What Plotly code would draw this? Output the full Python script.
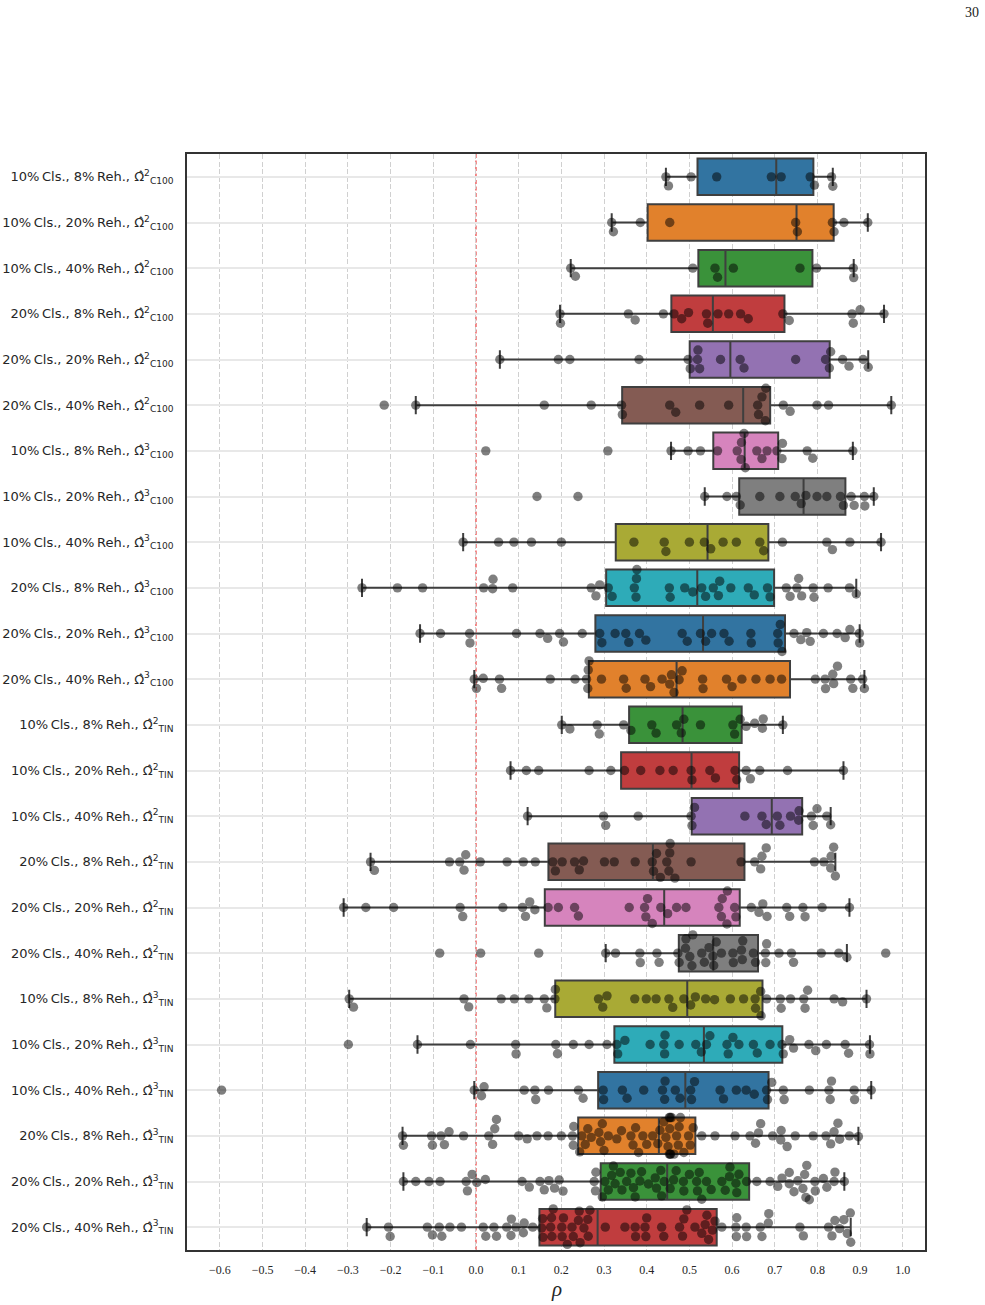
import numpy as np
import plotly.graph_objects as go

# ---------------- data (Spearman rho per configuration) ----------------
cls_pct = [10, 10, 10, 20, 20, 20, 10, 10, 10, 20, 20, 20,
           10, 10, 10, 20, 20, 20, 10, 10, 10, 20, 20, 20]
reh_pct = [8, 20, 40, 8, 20, 40, 8, 20, 40, 8, 20, 40,
           8, 20, 40, 8, 20, 40, 8, 20, 40, 8, 20, 40]
omega_pow = [2] * 6 + [3] * 6 + [2] * 6 + [3] * 6
omega_set = ["C100"] * 12 + ["TIN"] * 12

r00 = [0.445, 0.451, 0.504, 0.564, 0.692, 0.715, 0.783, 0.793, 0.833, 0.836]
r01 = [0.318, 0.322, 0.385, 0.454, 0.749, 0.753, 0.835, 0.839, 0.862, 0.918]
r02 = [0.222, 0.233, 0.508, 0.560, 0.566, 0.603, 0.759, 0.798, 0.884, 0.885]
r03 = [0.197, 0.198, 0.357, 0.373, 0.439, 0.464, 0.482, 0.498, 0.540, 0.543,
       0.567, 0.592, 0.620, 0.638, 0.719, 0.734, 0.881, 0.884, 0.900, 0.956]
r04 = [0.056, 0.193, 0.220, 0.382, 0.497, 0.502, 0.519, 0.520, 0.524, 0.573,
       0.619, 0.628, 0.749, 0.819, 0.828, 0.831, 0.859, 0.874, 0.907, 0.919]
r05 = [-0.215, -0.141, 0.160, 0.270, 0.341, 0.343, 0.454, 0.468, 0.524, 0.592,
       0.660, 0.662, 0.670, 0.678, 0.679, 0.720, 0.736, 0.799, 0.826, 0.973]
r06 = [0.023, 0.309, 0.457, 0.497, 0.526, 0.566, 0.612, 0.621, 0.622, 0.628,
       0.631, 0.658, 0.670, 0.682, 0.705, 0.717, 0.718, 0.776, 0.789, 0.883]
r07 = [0.143, 0.239, 0.536, 0.588, 0.610, 0.619, 0.665, 0.712, 0.748, 0.762,
       0.773, 0.799, 0.822, 0.854, 0.861, 0.879, 0.886, 0.910, 0.911, 0.932]
r08 = [-0.030, 0.053, 0.089, 0.130, 0.200, 0.370, 0.441, 0.445, 0.500, 0.535,
       0.550, 0.579, 0.610, 0.665, 0.674, 0.718, 0.822, 0.835, 0.876, 0.949]
r09 = [-0.267, -0.184, -0.125, 0.018, 0.039, 0.040, 0.086, 0.270, 0.281, 0.290,
       0.310, 0.319, 0.371, 0.375, 0.376, 0.377, 0.453, 0.455, 0.489, 0.508,
       0.529, 0.538, 0.556, 0.568, 0.571, 0.597, 0.638, 0.652, 0.683, 0.689,
       0.727, 0.736, 0.752, 0.756, 0.763, 0.790, 0.792, 0.825, 0.875, 0.891]
r10 = [-0.131, -0.083, -0.015, -0.014, 0.095, 0.150, 0.168, 0.196, 0.205, 0.249,
       0.290, 0.295, 0.326, 0.351, 0.358, 0.383, 0.398, 0.483, 0.495, 0.526,
       0.538, 0.552, 0.581, 0.593, 0.644, 0.645, 0.707, 0.708, 0.713, 0.717,
       0.745, 0.761, 0.775, 0.783, 0.814, 0.846, 0.865, 0.876, 0.898, 0.899]
r11 = [-0.004, 0.001, 0.017, 0.055, 0.060, 0.174, 0.232, 0.259, 0.262, 0.263,
       0.265, 0.294, 0.346, 0.352, 0.396, 0.409, 0.436, 0.454, 0.458, 0.464,
       0.476, 0.483, 0.531, 0.532, 0.587, 0.600, 0.623, 0.656, 0.689, 0.716,
       0.795, 0.818, 0.819, 0.836, 0.838, 0.847, 0.878, 0.883, 0.906, 0.910]
r12 = [0.201, 0.220, 0.284, 0.289, 0.346, 0.363, 0.412, 0.422, 0.470, 0.481,
       0.487, 0.526, 0.602, 0.606, 0.619, 0.633, 0.653, 0.671, 0.673, 0.719]
r13 = [0.081, 0.118, 0.147, 0.265, 0.316, 0.348, 0.386, 0.431, 0.462, 0.504,
       0.506, 0.548, 0.561, 0.607, 0.611, 0.633, 0.643, 0.665, 0.730, 0.861]
r14 = [0.121, 0.299, 0.304, 0.380, 0.504, 0.506, 0.512, 0.630, 0.670, 0.680,
       0.706, 0.712, 0.737, 0.756, 0.757, 0.786, 0.790, 0.799, 0.822, 0.831]
r15 = [-0.247, -0.238, -0.062, -0.038, -0.028, -0.024, 0.010, 0.073, 0.111, 0.139,
       0.180, 0.186, 0.202, 0.231, 0.242, 0.252, 0.301, 0.324, 0.373, 0.413,
       0.416, 0.423, 0.432, 0.447, 0.452, 0.454, 0.455, 0.466, 0.504, 0.621,
       0.653, 0.667, 0.670, 0.680, 0.793, 0.815, 0.831, 0.832, 0.838, 0.842]
r16 = [-0.310, -0.258, -0.193, -0.037, -0.031, 0.063, 0.109, 0.116, 0.126, 0.138,
       0.169, 0.193, 0.231, 0.240, 0.359, 0.395, 0.398, 0.402, 0.413, 0.433,
       0.449, 0.470, 0.492, 0.569, 0.575, 0.577, 0.588, 0.589, 0.606, 0.609,
       0.645, 0.663, 0.672, 0.682, 0.728, 0.735, 0.766, 0.771, 0.811, 0.875]
r17 = [-0.085, 0.011, 0.147, 0.304, 0.327, 0.384, 0.385, 0.424, 0.429, 0.473,
       0.476, 0.491, 0.492, 0.501, 0.506, 0.508, 0.529, 0.535, 0.546, 0.555,
       0.557, 0.563, 0.575, 0.602, 0.603, 0.622, 0.624, 0.625, 0.650, 0.655,
       0.678, 0.679, 0.681, 0.710, 0.739, 0.744, 0.809, 0.850, 0.869, 0.960]
r18 = [-0.297, -0.287, -0.028, -0.017, 0.059, 0.090, 0.124, 0.160, 0.166, 0.185,
       0.186, 0.287, 0.297, 0.307, 0.372, 0.399, 0.422, 0.452, 0.461, 0.487,
       0.503, 0.514, 0.538, 0.559, 0.596, 0.627, 0.654, 0.655, 0.667, 0.668,
       0.681, 0.713, 0.715, 0.737, 0.768, 0.771, 0.777, 0.839, 0.859, 0.915]
r19 = [-0.299, -0.137, -0.013, 0.093, 0.094, 0.187, 0.191, 0.228, 0.265, 0.307,
       0.330, 0.332, 0.349, 0.408, 0.440, 0.442, 0.443, 0.476, 0.515, 0.528,
       0.540, 0.548, 0.588, 0.591, 0.602, 0.616, 0.650, 0.659, 0.689, 0.717,
       0.720, 0.735, 0.744, 0.780, 0.796, 0.821, 0.865, 0.873, 0.922, 0.923]
r20 = [-0.596, -0.004, 0.013, 0.019, 0.113, 0.138, 0.140, 0.170, 0.240, 0.251,
       0.298, 0.299, 0.343, 0.354, 0.393, 0.437, 0.442, 0.443, 0.467, 0.478,
       0.505, 0.503, 0.512, 0.572, 0.580, 0.610, 0.633, 0.652, 0.681, 0.683,
       0.693, 0.720, 0.722, 0.781, 0.827, 0.830, 0.833, 0.886, 0.887, 0.926]
r21 = [-0.172, -0.170, -0.104, -0.102, -0.082, -0.074, -0.063, -0.029, 0.030, 0.039,
       0.044, 0.048, 0.100, 0.120, 0.143, 0.169, 0.200, 0.226, 0.228, 0.229,
       0.243, 0.248, 0.256, 0.262, 0.270, 0.288, 0.292, 0.296, 0.300, 0.310,
       0.330, 0.341, 0.363, 0.368, 0.374, 0.381, 0.391, 0.400, 0.414, 0.426,
       0.431, 0.440, 0.445, 0.450, 0.453, 0.453, 0.454, 0.455, 0.455, 0.456,
       0.458, 0.464, 0.470, 0.474, 0.476, 0.479, 0.487, 0.498, 0.502, 0.509,
       0.529, 0.560, 0.607, 0.642, 0.655, 0.662, 0.667, 0.695, 0.714, 0.715,
       0.729, 0.748, 0.790, 0.820, 0.831, 0.839, 0.848, 0.852, 0.875, 0.896]
r22 = [-0.170, -0.141, -0.110, -0.084, -0.023, -0.020, -0.009, 0.002, 0.022, 0.108,
       0.125, 0.150, 0.160, 0.171, 0.184, 0.195, 0.204, 0.277, 0.280, 0.281,
       0.296, 0.302, 0.310, 0.318, 0.322, 0.326, 0.338, 0.342, 0.353, 0.363,
       0.369, 0.373, 0.384, 0.388, 0.404, 0.420, 0.423, 0.433, 0.435, 0.441,
       0.455, 0.463, 0.469, 0.486, 0.487, 0.500, 0.517, 0.519, 0.523, 0.529,
       0.540, 0.551, 0.576, 0.584, 0.594, 0.595, 0.609, 0.611, 0.616, 0.634,
       0.658, 0.689, 0.707, 0.717, 0.734, 0.734, 0.745, 0.754, 0.766, 0.770,
       0.773, 0.775, 0.781, 0.794, 0.795, 0.814, 0.822, 0.839, 0.841, 0.863]
r23 = [-0.256, -0.205, -0.201, -0.114, -0.102, -0.086, -0.080, -0.061, -0.034, 0.017,
       0.023, 0.042, 0.048, 0.072, 0.082, 0.083, 0.094, 0.111, 0.113, 0.133,
       0.154, 0.156, 0.157, 0.175, 0.177, 0.178, 0.181, 0.201, 0.202, 0.205,
       0.214, 0.225, 0.228, 0.240, 0.242, 0.244, 0.253, 0.262, 0.263, 0.267,
       0.303, 0.349, 0.373, 0.374, 0.396, 0.398, 0.400, 0.435, 0.440, 0.477,
       0.484, 0.487, 0.494, 0.513, 0.529, 0.537, 0.541, 0.545, 0.554, 0.560,
       0.576, 0.609, 0.610, 0.611, 0.633, 0.634, 0.666, 0.670, 0.685, 0.686,
       0.759, 0.767, 0.826, 0.834, 0.841, 0.852, 0.862, 0.870, 0.877, 0.878]

series = [r00, r01, r02, r03, r04, r05, r06, r07, r08, r09, r10, r11,
          r12, r13, r14, r15, r16, r17, r18, r19, r20, r21, r22, r23]

x_tick_vals = [-0.6, -0.5, -0.4, -0.3, -0.2, -0.1, 0.0, 0.1, 0.2, 0.3, 0.4,
               0.5, 0.6, 0.7, 0.8, 0.9, 1.0]

# ---------------- style / layout ----------------
W, H = 985, 1305
ML, MR, MT, MB = 187, 60, 154, 55
X_RANGE = [-0.677, 1.052]
N = len(series)
PLOT_W = W - ML - MR
PLOT_H = H - MT - MB
PX_PER_X = PLOT_W / (X_RANGE[1] - X_RANGE[0])
PX_PER_CAT = PLOT_H / N
DOT = 9.4          # marker diameter (px)
SWARM_D = 9.0      # separation used by swarm layout (px)
HALF_W = 0.4       # gutter (category units)

palette = ["#3274a1", "#e1812c", "#3a923a", "#c03d3e", "#9372b2",
           "#845b53", "#d684bd", "#7f7f7f", "#a9aa35", "#2eabb8"]
LINE = "#3f3f3f"


def beeswarm(vals):
    """seaborn-like swarm layout; returns offsets in px (positive = down)."""
    vals = np.asarray(vals, float)
    order = np.argsort(vals, kind="mergesort")
    u = vals[order] * PX_PER_X
    placed = []
    offs = np.zeros(len(vals))
    for k, ui in enumerate(u):
        nbrs = []
        for (uj, vj) in reversed(placed):
            if ui - uj < SWARM_D:
                nbrs.append((uj, vj))
            else:
                break
        if not nbrs:
            v = 0.0
        else:
            cands = [0.0]
            left_first = True
            for (uj, vj) in nbrs:
                dv = np.sqrt(max(SWARM_D ** 2 - (ui - uj) ** 2, 0)) * 1.05
                a, b = vj + dv, vj - dv
                cands.extend([a, b] if left_first else [b, a])
                left_first = not left_first
            cands = sorted(cands, key=lambda c: abs(c))
            v = cands[-1]
            for c in cands:
                if all((uj - ui) ** 2 + (vj - c) ** 2 >= SWARM_D ** 2 - 1e-9
                       for (uj, vj) in nbrs):
                    v = c
                    break
        placed.append((ui, v))
        offs[order[k]] = v
    lim = HALF_W * PX_PER_CAT
    return np.clip(offs, -lim, lim)


def label(i):
    return (f"{cls_pct[i]}%\u2009Cls., {reh_pct[i]}%\u2009Reh., "
            f"Ω̂<sup>{omega_pow[i]}</sup><sub>{omega_set[i]}</sub>")


fig = go.Figure()

for i, vals in enumerate(series):
    v = np.asarray(vals, float)
    q1, med, q3 = np.percentile(v, [25, 50, 75])
    iqr = q3 - q1
    lo = v[v >= q1 - 1.5 * iqr].min()
    hi = v[v <= q3 + 1.5 * iqr].max()
    fig.add_trace(go.Box(
        y=[i], q1=[q1], median=[med], q3=[q3],
        lowerfence=[lo], upperfence=[hi],
        orientation="h", width=0.8, boxpoints=False,
        fillcolor=palette[i % 10],
        line=dict(color=LINE, width=2),
        whiskerwidth=0.5, showlegend=False, hoverinfo="skip"))

for i, vals in enumerate(series):
    offs = beeswarm(vals)
    fig.add_trace(go.Scatter(
        x=vals, y=i + offs / PX_PER_CAT, mode="markers",
        marker=dict(size=DOT, color="rgba(0,0,0,0.5)", line=dict(width=0)),
        showlegend=False, hoverinfo="skip"))

fig.add_shape(type="line", xref="x", yref="paper", x0=0, x1=0, y0=0, y1=1,
              line=dict(color="rgba(232,55,55,0.9)", width=1.3, dash="4px,2.5px"),
              layer="below")

tick_text = [("−" if t < 0 else "") + f"{abs(t):.1f}" for t in x_tick_vals]

fig.update_layout(
    width=W, height=H, margin=dict(l=ML, r=MR, t=MT, b=MB, autoexpand=False),
    paper_bgcolor="white", plot_bgcolor="white",
    xaxis=dict(range=X_RANGE, tickvals=x_tick_vals, ticktext=tick_text,
               automargin=False,
               showgrid=True, gridcolor="#d0d0d0", gridwidth=1,
               griddash="5px,2.5px", zeroline=False,
               showline=True, mirror=True, linecolor="#333333", linewidth=1.6,
               ticks="", ticklabelstandoff=8,
               tickfont=dict(family="Liberation Serif", size=12, color="#262626")),
    yaxis=dict(range=[N - 0.5, -0.5], tickvals=list(range(N)),
               ticktext=[label(i) for i in range(N)],
               automargin=False,
               showgrid=True, gridcolor="#e8e8e8", gridwidth=1.5, zeroline=False,
               showline=True, mirror=True, linecolor="#333333", linewidth=1.6,
               ticks="", ticklabelstandoff=9,
               tickfont=dict(family="DejaVu Sans", size=13, color="#262626")),
    annotations=[
        dict(text="30", xref="paper", yref="paper",
             x=(972 - ML) / PLOT_W, y=(H - MB - 12) / PLOT_H,
             showarrow=False, xanchor="center", yanchor="middle",
             font=dict(family="Liberation Serif", size=14, color="#222222")),
        dict(text="<i>ρ</i>", xref="paper", yref="paper",
             x=0.5, y=-39 / PLOT_H, showarrow=False,
             xanchor="center", yanchor="middle",
             font=dict(family="Liberation Serif", size=21, color="#262626")),
    ],
)

fig.write_html("out.html")
